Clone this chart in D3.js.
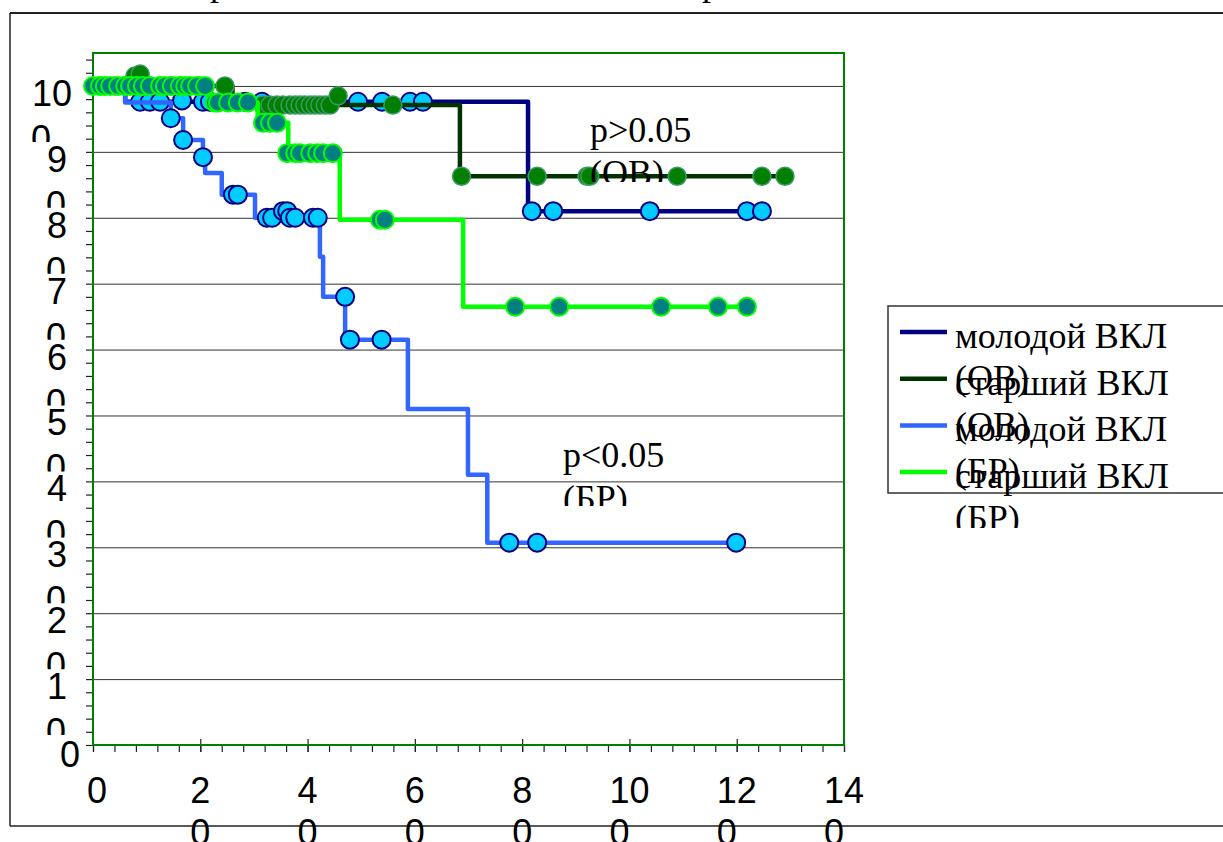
<!DOCTYPE html>
<html>
<head>
<meta charset="utf-8">
<script src="https://cdn.jsdelivr.net/npm/d3@7"></script>
<style>
  body { margin: 0; background: #fff; }
  svg { display: block; }
</style>
</head>
<body>
<div id="chart"></div>
<script>
// survival curves, [month, %]
var ovYoungSteps = [[0,100],[6,97.6],[81.1,81],[125.3,81]];
var ovYoungCensor = [[8.8,97.6],[10.6,97.6],[12.5,97.6],[16.6,97.8],[20.5,97.6],[21.8,97.6],[28.3,97.6],[31.5,97.6],
  [49.4,97.6],[53.9,97.6],[59.1,97.6],[61.5,97.6],[81.8,81],[85.8,81],[103.8,81],[121.9,81],[124.7,81]];

var ovOldSteps = [[0,100],[26,97.1],[68.4,86.3],[130,86.3]];
var ovOldCensor = [[1.3,100],[4.1,100],[6.0,100],[7.8,101.5],[8.8,101.8],[10.6,100],[14.4,100],[16.2,100],[19.9,100],[24.6,100],
  [31.7,97.1],[33.0,97.1],[34.3,97.1],[35.4,97.1],[36.7,97.1],[37.7,97.1],[38.6,97.1],[39.5,97.1],[40.5,97.1],
  [41.4,97.1],[42.3,97.1],[43.3,97.1],[44.2,97.1],[45.7,98.5],[55.9,97.1],
  [68.7,86.3],[82.8,86.3],[92.1,86.3],[92.6,86.3],[108.9,86.3],[124.7,86.3],[129.0,86.3]];

var brYoungSteps = [[0,100],[6,97.5],[14.5,95.1],[16.8,91.8],[20.5,89.2],[20.9,86.8],[24.0,83.5],[30.2,80.0],
  [42.3,74.1],[42.9,68.0],[47.0,61.5],[58.7,51.0],[69.9,41.0],[73.5,30.7],[119.9,30.7]];
var brYoungCensor = [[14.5,95.1],[16.8,91.8],[20.5,89.2],[26.1,83.5],[27.0,83.5],[32.4,80],[33.4,80],[35.4,81],[36.2,81],
  [36.7,80],[37.7,80],[41.0,80],[41.9,80],[47.0,68],[47.9,61.5],[53.8,61.5],[77.6,30.7],[82.8,30.7],[119.9,30.7]];

var brOldSteps = [[0,100],[21.8,97.5],[30.7,94.4],[36.4,89.8],[46.0,79.7],[69.0,66.5],[122,66.5]];
var brOldCensor = [[0,100],[1.3,100],[2.2,100],[3.2,100],[4.7,100],[6.0,100],[6.9,100],[8.2,100],[9.3,100],[10.6,100],
  [12.5,100],[13.4,100],[14.7,100],[16.2,100],[17.2,100],[18.1,100],[19.4,100],[20.9,100],
  [22.7,97.5],[23.3,97.5],[25.2,97.5],[27.0,97.5],[28.9,97.5],
  [31.7,94.4],[33.0,94.4],[34.3,94.4],
  [36.2,89.8],[37.7,89.8],[38.6,89.8],[40.5,89.8],[41.8,89.8],[42.9,89.8],[44.7,89.8],
  [53.5,79.7],[54.4,79.7],[78.7,66.5],[86.9,66.5],[105.9,66.5],[116.5,66.5],[121.9,66.5]];

var seriesNames = ["молодой ВКЛ (ОВ)", "старший ВКЛ (ОВ)", "молодой ВКЛ (БР)", "старший ВКЛ (БР)"];
var xTickLabels = ["0","20","40","60","80","100","120","140"];
var yTickLabels = ["0","10","20","30","40","50","60","70","80","90","100"];
var pTexts = [["p>0.05", "(ОВ)"], ["p<0.05", "(БР)"]];

var series = [
  {steps: ovYoungSteps, censor: ovYoungCensor, line: "#000080", fill: "#00CCFF", stroke: "#000080", sw: 2},
  {steps: brYoungSteps, censor: brYoungCensor, line: "#3366FF", fill: "#00CCFF", stroke: "#000080", sw: 2},
  {steps: ovOldSteps, censor: ovOldCensor, line: "#003300", fill: "#007F00", stroke: "#3A9A66", sw: 1.5},
  {steps: brOldSteps, censor: brOldCensor, line: "#00FF00", fill: "#008080", stroke: "#00FF00", sw: 2}
];
var legendColors = ["#000080", "#003300", "#3366FF", "#00FF00"];

var width = 1223, height = 842;
var margin = {top: 53, right: 379, bottom: 97, left: 93};
var plotW = width - margin.left - margin.right,
    plotH = height - margin.top - margin.bottom;

var x = d3.scaleLinear().domain([0, 140]).range([margin.left, margin.left + plotW]);
var y = d3.scaleLinear().domain([0, 105]).range([margin.top + plotH, margin.top]);

var svg = d3.select("#chart").append("svg")
    .attr("width", width)
    .attr("height", height);

var defs = svg.append("defs");

// outer frame (runs off the right edge)
svg.append("line").attr("x1", 10).attr("x2", width).attr("y1", 13).attr("y2", 13)
    .attr("stroke", "#222").attr("stroke-width", 2);
svg.append("line").attr("x1", 10).attr("x2", 10).attr("y1", 13).attr("y2", 826)
    .attr("stroke", "#222").attr("stroke-width", 1.5);
svg.append("line").attr("x1", 10).attr("x2", width).attr("y1", 826).attr("y2", 826)
    .attr("stroke", "#222").attr("stroke-width", 1.5);

// descenders of the caption line above, cut by the page top
svg.selectAll(".cap").data([210, 702]).enter().append("text")
    .attr("x", function(d) { return d; })
    .attr("y", -5)
    .style("font-family", "Liberation Serif, Times New Roman, serif")
    .style("font-size", "36px")
    .text("р");

// horizontal grid
svg.append("g")
    .attr("transform", "translate(" + margin.left + ",0)")
    .call(d3.axisLeft(y).tickValues(d3.range(10, 101, 10)).tickSize(-plotW).tickFormat(""))
    .call(function(g) { g.select(".domain").remove(); })
    .selectAll("line").attr("stroke", "#333").attr("stroke-width", 1);

// y ticks every 2
svg.append("g")
    .attr("transform", "translate(" + margin.left + ",0)")
    .call(d3.axisLeft(y).tickValues(d3.range(0, 105, 2)).tickSize(7).tickFormat(""))
    .call(function(g) { g.select(".domain").remove(); })
    .selectAll("line").attr("stroke", "#222").attr("stroke-width", 1.2);

// x minor ticks every 4, major every 20 crossing the axis
svg.append("g")
    .attr("transform", "translate(0," + (margin.top + plotH) + ")")
    .call(d3.axisBottom(x).tickValues(d3.range(0, 141, 4)).tickSize(7).tickFormat(""))
    .call(function(g) { g.select(".domain").remove(); })
    .selectAll("line").attr("stroke", "#222").attr("stroke-width", 1.2);
svg.append("g")
    .attr("transform", "translate(0," + (margin.top + plotH) + ")")
    .call(d3.axisBottom(x).tickValues(d3.range(0, 141, 20)).tickSize(7).tickFormat(""))
    .call(function(g) { g.select(".domain").remove(); })
    .selectAll("line").attr("y1", -6).attr("stroke", "#222").attr("stroke-width", 1.2);

// plot border
svg.append("rect")
    .attr("x", margin.left).attr("y", margin.top)
    .attr("width", plotW).attr("height", plotH)
    .attr("fill", "none").attr("stroke", "#008000").attr("stroke-width", 2);

// curves and censor marks
var line = d3.line()
    .x(function(d) { return x(d[0]); })
    .y(function(d) { return y(d[1]); })
    .curve(d3.curveStepAfter);

series.forEach(function(s) {
  svg.append("path")
      .datum(s.steps)
      .attr("d", line)
      .attr("fill", "none")
      .attr("stroke", s.line)
      .attr("stroke-width", 4.5)
      .attr("stroke-linejoin", "round");
  svg.append("g").selectAll("circle")
      .data(s.censor)
    .enter().append("circle")
      .attr("cx", function(d) { return x(d[0]); })
      .attr("cy", function(d) { return y(d[1]); })
      .attr("r", 9)
      .attr("fill", s.fill)
      .attr("stroke", s.stroke)
      .attr("stroke-width", s.sw);
});

// y labels, wrapped and clipped like the original
var sans = "Liberation Sans, Arial, sans-serif";
yTickLabels.forEach(function(s, i) {
  var v = +s, ty = y(v);
  var g = svg.append("g").style("font-family", sans).style("font-size", "36px").attr("fill", "#000");
  if (s.length === 1) {
    g.append("text").attr("x", 80).attr("y", ty + 22).attr("text-anchor", "end").text(s);
    return;
  }
  var cid = "yclip" + i;
  defs.append("clipPath").attr("id", cid).append("rect")
      .attr("x", 0).attr("y", ty - 40).attr("width", 85).attr("height", 96);
  g.attr("clip-path", "url(#" + cid + ")");
  var right = s.length === 3 ? 72 : 67;
  var t1 = g.append("text").attr("x", right).attr("y", ty + 20).attr("text-anchor", "end").text(s.slice(0, -1));
  var w = t1.node().getComputedTextLength();
  g.append("text").attr("x", right - w - 1).attr("y", ty + 65).text(s.slice(-1));
});

// x labels
xTickLabels.forEach(function(s) {
  var tx = x(+s);
  var g = svg.append("g").style("font-family", sans).style("font-size", "36px").attr("fill", "#000");
  if (s.length === 1) {
    g.append("text").attr("x", tx + 4).attr("y", 803).attr("text-anchor", "middle").text(s);
    return;
  }
  var t1 = g.append("text").attr("x", tx).attr("y", 803).attr("text-anchor", "middle").text(s.slice(0, -1));
  var w = t1.node().getComputedTextLength();
  g.append("text").attr("x", tx - w / 2).attr("y", 845).text(s.slice(-1));
});

// p-value notes
var serif = "Liberation Serif, Times New Roman, serif";
var notePos = [{x: 590, y: 142, clip: 182}, {x: 563, y: 467, clip: 506}];
pTexts.forEach(function(lines, i) {
  var p = notePos[i];
  defs.append("clipPath").attr("id", "pclip" + i).append("rect")
      .attr("x", p.x - 10).attr("y", p.y - 40).attr("width", 160).attr("height", p.clip - p.y + 40);
  var g = svg.append("g").attr("clip-path", "url(#pclip" + i + ")")
      .style("font-family", serif).style("font-size", "36px");
  lines.forEach(function(t, j) {
    g.append("text").attr("x", p.x).attr("y", p.y + j * 43).text(t);
  });
});

// legend
var legend = svg.append("g");
legend.append("rect")
    .attr("x", 888).attr("y", 306).attr("width", 400).attr("height", 187)
    .attr("fill", "#fff").attr("stroke", "#333").attr("stroke-width", 1.5);
defs.append("clipPath").attr("id", "lclip").append("rect")
    .attr("x", 888).attr("y", 306).attr("width", 400).attr("height", 222);
var items = legend.selectAll(".item")
    .data(seriesNames)
  .enter().append("g")
    .attr("transform", function(d, i) { return "translate(0," + (332 + i * 46.7) + ")"; });
items.append("line")
    .attr("x1", 900).attr("x2", 947)
    .attr("stroke", function(d, i) { return legendColors[i]; })
    .attr("stroke-width", 4.5);
var lt = legend.append("g").attr("clip-path", "url(#lclip)")
    .style("font-family", serif).style("font-size", "36px");
seriesNames.forEach(function(name, i) {
  var cut = name.lastIndexOf(" ");
  var by = 348 + i * 46.7;
  lt.append("text").attr("x", 955).attr("y", by).text(name.slice(0, cut));
  lt.append("text").attr("x", 955).attr("y", by + 42).text(name.slice(cut + 1));
});
</script>
</body>
</html>
